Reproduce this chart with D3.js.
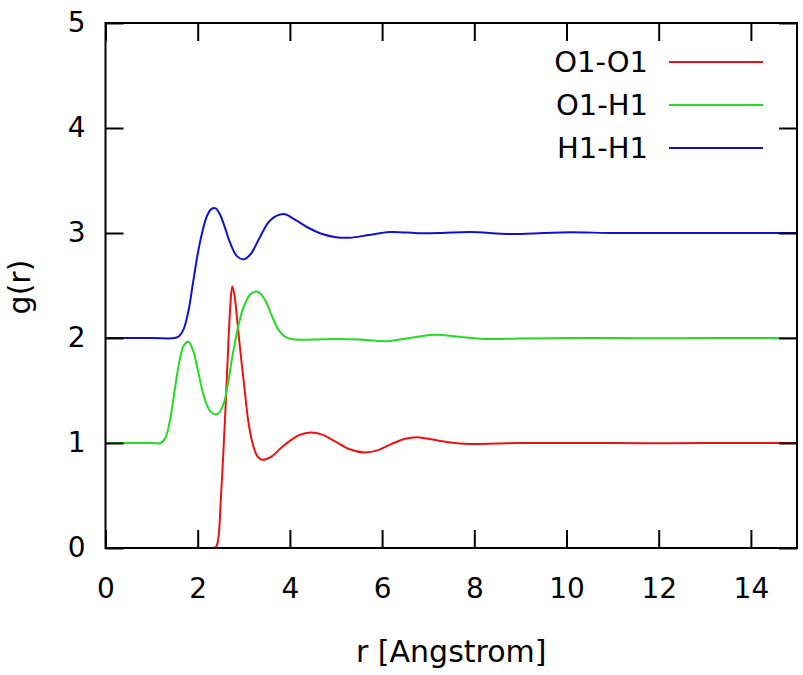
<!DOCTYPE html>
<html>
<head>
<meta charset="utf-8">
<script src="https://cdn.jsdelivr.net/npm/d3@7"></script>
<style>
  body { margin: 0; background: #fff; }
  svg text { font-family: "DejaVu Sans", Verdana, sans-serif; }
</style>
</head>
<body>
<svg id="chart" width="803" height="675"></svg>
<script>
// series names, colours and vertical offsets (curves are stacked by +1)
const seriesNames = ['O1-O1', 'O1-H1', 'H1-H1'];
const seriesColors = ['#ee1111', '#22dd22', '#1111cc'];
const seriesOffsets = [0, 1, 2];

const xTicks = [0, 2, 4, 6, 8, 10, 12, 14];
const yTicks = [0, 1, 2, 3, 4, 5];

// g(r), [r, g]
const oo = [
  [0, 0], [1, 0], [2, 0], [2.35, 0], [2.40, 0.01], [2.45, 0.1], [2.50, 0.45],
  [2.55, 0.85], [2.60, 1.3], [2.65, 1.8], [2.70, 2.25], [2.75, 2.49], [2.80, 2.4],
  [2.85, 2.2], [2.90, 1.98], [3.0, 1.58], [3.1, 1.2], [3.2, 0.98], [3.3, 0.87],
  [3.4, 0.84], [3.6, 0.87], [3.8, 0.95], [4.0, 1.02], [4.2, 1.075], [4.45, 1.1],
  [4.7, 1.08], [5.0, 1.01], [5.3, 0.94], [5.6, 0.91], [5.9, 0.93], [6.2, 0.99],
  [6.5, 1.04], [6.75, 1.055], [7.0, 1.04], [7.4, 1.01], [7.9, 0.99], [8.5, 0.995],
  [9, 1.0], [10, 1.0], [11, 1.0], [12, 0.998], [13, 1.0], [14, 1.0], [15, 1.0]
];
const oh = [
  [0, 0], [1.0, 0], [1.2, 0], [1.3, 0.05], [1.4, 0.22], [1.5, 0.5], [1.6, 0.77],
  [1.7, 0.93], [1.8, 0.965], [1.9, 0.88], [2.0, 0.70], [2.1, 0.50], [2.2, 0.36],
  [2.3, 0.29], [2.43, 0.276], [2.55, 0.36], [2.65, 0.55], [2.77, 0.87], [2.9, 1.15],
  [3.0, 1.3], [3.15, 1.42], [3.3, 1.44], [3.45, 1.37], [3.6, 1.22], [3.75, 1.08],
  [3.9, 1.01], [4.1, 0.985], [4.5, 0.985], [5.0, 0.99], [5.5, 0.985],
  [6.1, 0.97], [6.6, 1.0], [7.15, 1.03], [7.7, 1.01], [8.3, 0.99], [9, 0.995],
  [10, 1.0], [11, 1.0], [12, 0.998], [13, 1.0], [14, 1.0], [15, 1.0]
];
const hh = [
  [0, 0], [1.0, 0], [1.5, 0], [1.6, 0.02], [1.7, 0.09], [1.8, 0.26], [1.9, 0.53],
  [2.0, 0.8], [2.1, 1.01], [2.2, 1.16], [2.3, 1.23], [2.39, 1.235], [2.5, 1.16],
  [2.6, 1.04], [2.7, 0.91], [2.85, 0.78], [3.0, 0.75], [3.15, 0.8], [3.35, 0.96],
  [3.57, 1.12], [3.86, 1.18], [4.1, 1.13], [4.4, 1.05], [4.7, 0.99], [5.0, 0.96],
  [5.3, 0.955], [5.7, 0.98], [6.17, 1.01], [6.82, 0.997], [7.3, 1.0], [7.9, 1.01],
  [8.77, 0.99], [9.5, 1.0], [10.07, 1.007], [11, 1.0], [12, 1.0], [13, 1.0],
  [14, 1.0], [15, 1.0]
];
const seriesData = [oo, oh, hh];

const svg = d3.select('#chart');
const plotLeft = 105.5, plotRight = 797, plotTop = 23, plotBottom = 548;

const x = d3.scaleLinear().domain([0, 15]).range([plotLeft, plotRight]);
const y = d3.scaleLinear().domain([0, 5]).range([plotBottom, plotTop]);

svg.append('clipPath').attr('id', 'clip')
  .append('rect')
    .attr('x', plotLeft).attr('y', plotTop)
    .attr('width', plotRight - plotLeft).attr('height', plotBottom - plotTop);

const line = d3.line()
  .x(d => x(d[0]))
  .y(d => y(d[1]))
  .curve(d3.curveCatmullRom.alpha(0.5));

svg.append('g')
  .attr('clip-path', 'url(#clip)')
  .selectAll('path')
  .data(seriesData)
  .join('path')
    .attr('fill', 'none')
    .attr('stroke', (d, i) => seriesColors[i])
    .attr('stroke-width', 2)
    .attr('d', (d, i) => line(d.map(p => [p[0], p[1] + seriesOffsets[i]])));

// axes, ticks pointing inward on all four sides
const fontSize = 28;
const styleAxis = g => {
  g.select('.domain').remove();
  g.selectAll('.tick line').attr('stroke', '#000').attr('stroke-width', 2);
  g.selectAll('.tick text').attr('fill', '#000').attr('font-size', fontSize);
};

svg.append('g')
  .attr('transform', `translate(0,${plotBottom})`)
  .call(d3.axisBottom(x).tickValues(xTicks).tickFormat(d3.format('d'))
    .tickSize(-18).tickPadding(30))
  .call(styleAxis);
svg.append('g')
  .attr('transform', `translate(0,${plotTop})`)
  .call(d3.axisTop(x).tickValues(xTicks).tickSize(-18).tickFormat(''))
  .call(styleAxis);
svg.append('g')
  .attr('transform', `translate(${plotLeft},0)`)
  .call(d3.axisLeft(y).tickValues(yTicks).tickFormat(d3.format('d'))
    .tickSize(-18).tickPadding(20))
  .call(styleAxis);
svg.append('g')
  .attr('transform', `translate(${plotRight},0)`)
  .call(d3.axisRight(y).tickValues(yTicks).tickSize(-18).tickFormat(''))
  .call(styleAxis);

svg.append('rect')
  .attr('x', plotLeft).attr('y', plotTop)
  .attr('width', plotRight - plotLeft).attr('height', plotBottom - plotTop)
  .attr('fill', 'none')
  .attr('stroke', '#000')
  .attr('stroke-width', 2);

// axis titles
svg.append('text')
  .attr('x', (plotLeft + plotRight) / 2)
  .attr('y', 662)
  .attr('text-anchor', 'middle')
  .attr('font-size', 30)
  .text('r [Angstrom]');

svg.append('text')
  .attr('transform', 'translate(30,287) rotate(-90)')
  .attr('text-anchor', 'middle')
  .attr('font-size', 30)
  .text('g(r)');

// legend
const legend = svg.append('g')
  .selectAll('g')
  .data(seriesNames)
  .join('g')
    .attr('transform', (d, i) => `translate(0,${62 + i * 43})`);
legend.append('text')
  .attr('x', 648)
  .attr('dy', '0.35em')
  .attr('text-anchor', 'end')
  .attr('font-size', 29)
  .text(d => d);
legend.append('line')
  .attr('x1', 669).attr('x2', 763)
  .attr('stroke', (d, i) => seriesColors[i])
  .attr('stroke-width', 2);
</script>
</body>
</html>
